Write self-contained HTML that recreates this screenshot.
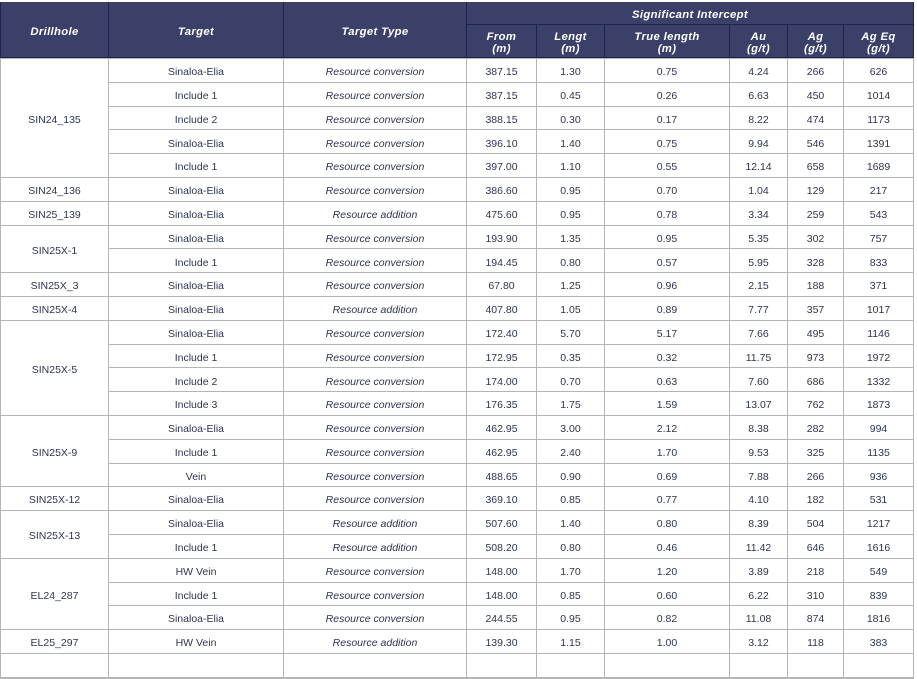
<!DOCTYPE html>
<html>
<head>
<meta charset="utf-8">
<style>
  html, body { margin: 0; padding: 0; background: #ffffff; }
  body { width: 917px; height: 655px; overflow: hidden; position: relative; font-family: "Liberation Sans", Arial, sans-serif; }
  .hdr {
    position: absolute; left: 0; top: 2px; width: 912px; height: 55px;
    padding: 0 1px 1px 1px;
    background: #1c2352;
    display: grid;
    grid-template-columns: 107px 174px 182px 69px 67px 124px 57px 55px 69px;
    grid-template-rows: 22px 32px;
    gap: 1px;
  }
  .hdr div {
    background: #3a4068; color: #ffffff;
    font-weight: bold; font-style: italic; font-size: 11.3px; letter-spacing: 0.35px;
    display: flex; align-items: center; justify-content: center; text-align: center;
    line-height: 12px;
    padding-top: 4px; box-sizing: border-box;
  }
  .body {
    position: absolute; left: 0; top: 58px; width: 912px; height: 620px;
    padding: 0 1px 0 1px;
    background: #b4b4b4;
    display: grid;
    grid-template-columns: 107px 174px 182px 69px 67px 124px 57px 55px 69px;
    grid-auto-rows: 22.8px;
    gap: 1px;
    padding-top: 1px;
  }
  .body div {
    background: #ffffff; color: #2e3453;
    font-size: 10.5px;
    display: flex; align-items: center; justify-content: center; text-align: center;
    white-space: nowrap;
    padding-top: 3.5px; box-sizing: border-box;
  }
  .body div.i { font-style: italic; }
  .s2 { grid-row: span 2; }
  .s3 { grid-row: span 3; }
  .s4 { grid-row: span 4; }
  .s5 { grid-row: span 5; }
</style>
</head>
<body>
<div class="hdr">
  <div style="grid-row: 1 / 3; grid-column: 1;">Drillhole</div>
  <div style="grid-row: 1 / 3; grid-column: 2;">Target</div>
  <div style="grid-row: 1 / 3; grid-column: 3;">Target Type</div>
  <div style="grid-row: 1; grid-column: 4 / 10;">Significant Intercept</div>
  <div style="grid-row: 2; grid-column: 4;">From<br>(m)</div>
  <div style="grid-row: 2; grid-column: 5;">Lengt<br>(m)</div>
  <div style="grid-row: 2; grid-column: 6;">True length<br>(m)</div>
  <div style="grid-row: 2; grid-column: 7;">Au<br>(g/t)</div>
  <div style="grid-row: 2; grid-column: 8;">Ag<br>(g/t)</div>
  <div style="grid-row: 2; grid-column: 9;">Ag Eq<br>(g/t)</div>
</div>

<div class="body">
  <div class="s5">SIN24_135</div>
  <div>Sinaloa-Elia</div><div class="i">Resource conversion</div><div>387.15</div><div>1.30</div><div>0.75</div><div>4.24</div><div>266</div><div>626</div>
  <div>Include 1</div><div class="i">Resource conversion</div><div>387.15</div><div>0.45</div><div>0.26</div><div>6.63</div><div>450</div><div>1014</div>
  <div>Include 2</div><div class="i">Resource conversion</div><div>388.15</div><div>0.30</div><div>0.17</div><div>8.22</div><div>474</div><div>1173</div>
  <div>Sinaloa-Elia</div><div class="i">Resource conversion</div><div>396.10</div><div>1.40</div><div>0.75</div><div>9.94</div><div>546</div><div>1391</div>
  <div>Include 1</div><div class="i">Resource conversion</div><div>397.00</div><div>1.10</div><div>0.55</div><div>12.14</div><div>658</div><div>1689</div>

  <div>SIN24_136</div>
  <div>Sinaloa-Elia</div><div class="i">Resource conversion</div><div>386.60</div><div>0.95</div><div>0.70</div><div>1.04</div><div>129</div><div>217</div>

  <div>SIN25_139</div>
  <div>Sinaloa-Elia</div><div class="i">Resource addition</div><div>475.60</div><div>0.95</div><div>0.78</div><div>3.34</div><div>259</div><div>543</div>

  <div class="s2">SIN25X-1</div>
  <div>Sinaloa-Elia</div><div class="i">Resource conversion</div><div>193.90</div><div>1.35</div><div>0.95</div><div>5.35</div><div>302</div><div>757</div>
  <div>Include 1</div><div class="i">Resource conversion</div><div>194.45</div><div>0.80</div><div>0.57</div><div>5.95</div><div>328</div><div>833</div>

  <div>SIN25X_3</div>
  <div>Sinaloa-Elia</div><div class="i">Resource conversion</div><div>67.80</div><div>1.25</div><div>0.96</div><div>2.15</div><div>188</div><div>371</div>

  <div>SIN25X-4</div>
  <div>Sinaloa-Elia</div><div class="i">Resource addition</div><div>407.80</div><div>1.05</div><div>0.89</div><div>7.77</div><div>357</div><div>1017</div>

  <div class="s4">SIN25X-5</div>
  <div>Sinaloa-Elia</div><div class="i">Resource conversion</div><div>172.40</div><div>5.70</div><div>5.17</div><div>7.66</div><div>495</div><div>1146</div>
  <div>Include 1</div><div class="i">Resource conversion</div><div>172.95</div><div>0.35</div><div>0.32</div><div>11.75</div><div>973</div><div>1972</div>
  <div>Include 2</div><div class="i">Resource conversion</div><div>174.00</div><div>0.70</div><div>0.63</div><div>7.60</div><div>686</div><div>1332</div>
  <div>Include 3</div><div class="i">Resource conversion</div><div>176.35</div><div>1.75</div><div>1.59</div><div>13.07</div><div>762</div><div>1873</div>

  <div class="s3">SIN25X-9</div>
  <div>Sinaloa-Elia</div><div class="i">Resource conversion</div><div>462.95</div><div>3.00</div><div>2.12</div><div>8.38</div><div>282</div><div>994</div>
  <div>Include 1</div><div class="i">Resource conversion</div><div>462.95</div><div>2.40</div><div>1.70</div><div>9.53</div><div>325</div><div>1135</div>
  <div>Vein</div><div class="i">Resource conversion</div><div>488.65</div><div>0.90</div><div>0.69</div><div>7.88</div><div>266</div><div>936</div>

  <div>SIN25X-12</div>
  <div>Sinaloa-Elia</div><div class="i">Resource conversion</div><div>369.10</div><div>0.85</div><div>0.77</div><div>4.10</div><div>182</div><div>531</div>

  <div class="s2">SIN25X-13</div>
  <div>Sinaloa-Elia</div><div class="i">Resource addition</div><div>507.60</div><div>1.40</div><div>0.80</div><div>8.39</div><div>504</div><div>1217</div>
  <div>Include 1</div><div class="i">Resource addition</div><div>508.20</div><div>0.80</div><div>0.46</div><div>11.42</div><div>646</div><div>1616</div>

  <div class="s3">EL24_287</div>
  <div>HW Vein</div><div class="i">Resource conversion</div><div>148.00</div><div>1.70</div><div>1.20</div><div>3.89</div><div>218</div><div>549</div>
  <div>Include 1</div><div class="i">Resource conversion</div><div>148.00</div><div>0.85</div><div>0.60</div><div>6.22</div><div>310</div><div>839</div>
  <div>Sinaloa-Elia</div><div class="i">Resource conversion</div><div>244.55</div><div>0.95</div><div>0.82</div><div>11.08</div><div>874</div><div>1816</div>

  <div>EL25_297</div>
  <div>HW Vein</div><div class="i">Resource addition</div><div>139.30</div><div>1.15</div><div>1.00</div><div>3.12</div><div>118</div><div>383</div>

  <div></div><div></div><div></div><div></div><div></div><div></div><div></div><div></div><div></div>
</div>
</body>
</html>
